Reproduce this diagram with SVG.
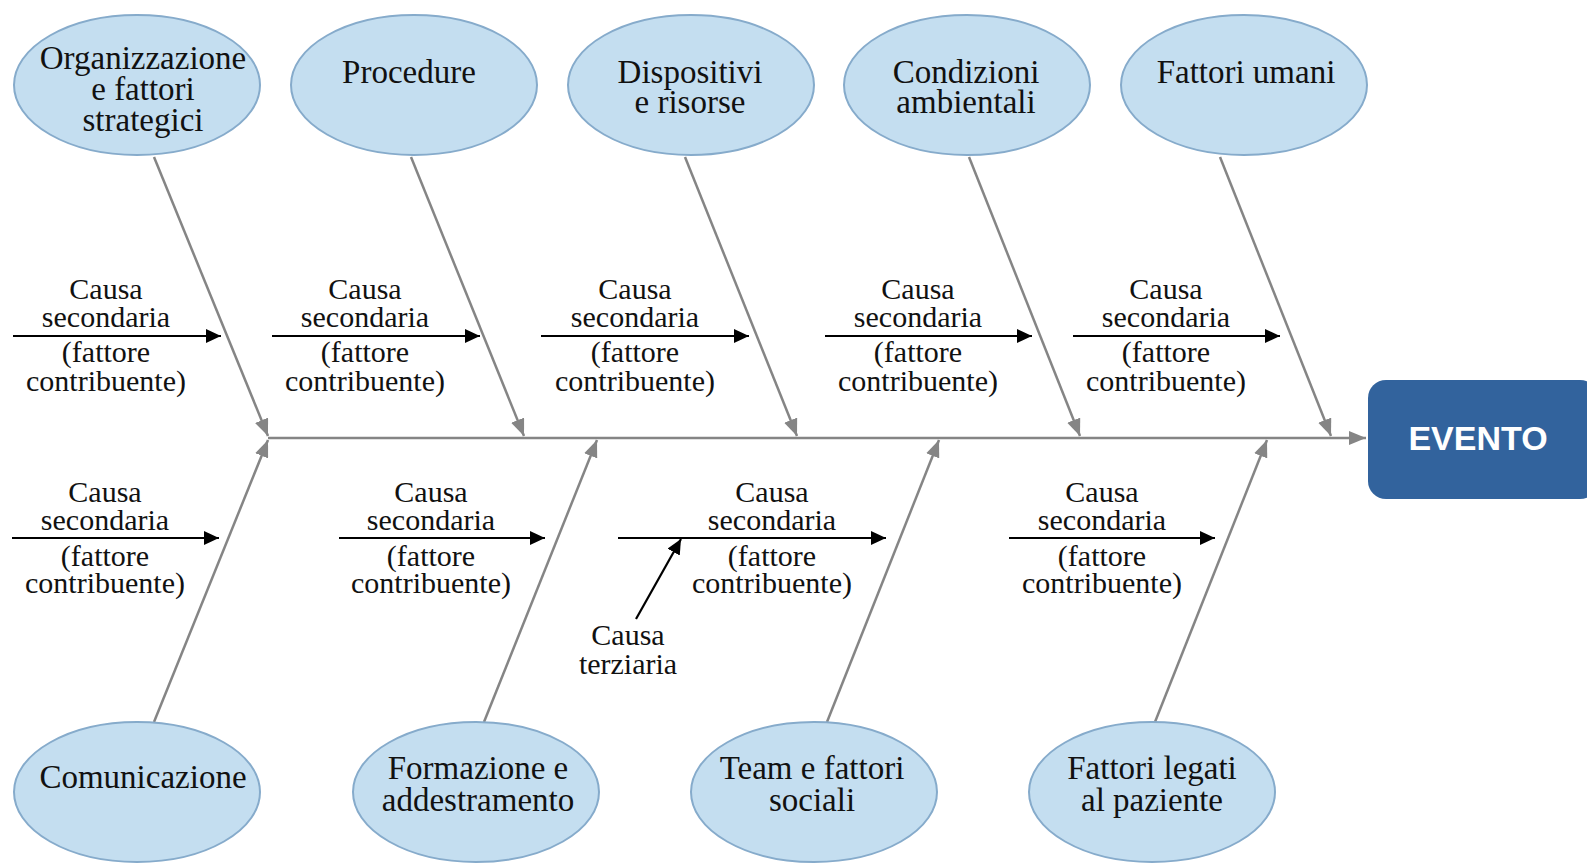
<svg xmlns="http://www.w3.org/2000/svg" width="1587" height="863" viewBox="0 0 1587 863">
<style>
.cause{fill:#c4def0;stroke:#86abcb;stroke-width:2}
.lbl{font-family:"Liberation Serif","Times New Roman",serif;font-size:33px;fill:#111;text-anchor:middle;dominant-baseline:central}
.sec{font-family:"Liberation Serif","Times New Roman",serif;font-size:30px;fill:#111;text-anchor:middle;dominant-baseline:central}
.bone{stroke:#858585;stroke-width:2.5;fill:none;marker-end:url(#ga)}
.sub{stroke:#000;stroke-width:2.2;fill:none;marker-end:url(#ba)}
</style>
<defs>
<marker id="ga" markerUnits="userSpaceOnUse" markerWidth="18" markerHeight="14" refX="17" refY="7" orient="auto"><path d="M0,0 L17,7 L0,14 z" fill="#858585"/></marker>
<marker id="ba" markerUnits="userSpaceOnUse" markerWidth="16" markerHeight="14" refX="15" refY="7" orient="auto"><path d="M0,0 L15,7 L0,14 z" fill="#000"/></marker>
</defs>
<rect width="1587" height="863" fill="#ffffff"/>
<g id="connectors">
<line class="bone" x1="268" y1="438" x2="1366" y2="438"/>
<line class="bone" x1="154" y1="157" x2="268" y2="436"/>
<line class="bone" x1="411" y1="157" x2="524" y2="436"/>
<line class="bone" x1="685" y1="157" x2="797" y2="436"/>
<line class="bone" x1="969" y1="157" x2="1080" y2="436"/>
<line class="bone" x1="1220" y1="157" x2="1331" y2="436"/>
<line class="bone" x1="154" y1="722" x2="268" y2="440"/>
<line class="bone" x1="484" y1="722" x2="597" y2="440"/>
<line class="bone" x1="827" y1="722" x2="939" y2="440"/>
<line class="bone" x1="1155" y1="722" x2="1267" y2="440"/>
<line class="sub" x1="13" y1="336" x2="221" y2="336"/>
<line class="sub" x1="272" y1="336" x2="480" y2="336"/>
<line class="sub" x1="541" y1="336" x2="749" y2="336"/>
<line class="sub" x1="825" y1="336" x2="1032" y2="336"/>
<line class="sub" x1="1073" y1="336" x2="1280" y2="336"/>
<line class="sub" x1="12" y1="538" x2="219" y2="538"/>
<line class="sub" x1="339" y1="538" x2="545" y2="538"/>
<line class="sub" x1="618" y1="538" x2="886" y2="538"/>
<line class="sub" x1="1009" y1="538" x2="1215" y2="538"/>
<line class="sub" x1="636" y1="619" x2="681" y2="539"/>
</g>
<g id="sec-labels">
<text class="sec" x="106" y="288">Causa</text><text class="sec" x="106" y="316">secondaria</text><text class="sec" x="106" y="351">(fattore</text><text class="sec" x="106" y="380">contribuente)</text>
<text class="sec" x="365" y="288">Causa</text><text class="sec" x="365" y="316">secondaria</text><text class="sec" x="365" y="351">(fattore</text><text class="sec" x="365" y="380">contribuente)</text>
<text class="sec" x="635" y="288">Causa</text><text class="sec" x="635" y="316">secondaria</text><text class="sec" x="635" y="351">(fattore</text><text class="sec" x="635" y="380">contribuente)</text>
<text class="sec" x="918" y="288">Causa</text><text class="sec" x="918" y="316">secondaria</text><text class="sec" x="918" y="351">(fattore</text><text class="sec" x="918" y="380">contribuente)</text>
<text class="sec" x="1166" y="288">Causa</text><text class="sec" x="1166" y="316">secondaria</text><text class="sec" x="1166" y="351">(fattore</text><text class="sec" x="1166" y="380">contribuente)</text>
<text class="sec" x="105" y="491">Causa</text><text class="sec" x="105" y="519">secondaria</text><text class="sec" x="105" y="555">(fattore</text><text class="sec" x="105" y="582">contribuente)</text>
<text class="sec" x="431" y="491">Causa</text><text class="sec" x="431" y="519">secondaria</text><text class="sec" x="431" y="555">(fattore</text><text class="sec" x="431" y="582">contribuente)</text>
<text class="sec" x="772" y="491">Causa</text><text class="sec" x="772" y="519">secondaria</text><text class="sec" x="772" y="555">(fattore</text><text class="sec" x="772" y="582">contribuente)</text>
<text class="sec" x="1102" y="491">Causa</text><text class="sec" x="1102" y="519">secondaria</text><text class="sec" x="1102" y="555">(fattore</text><text class="sec" x="1102" y="582">contribuente)</text>
<text class="sec" x="628" y="634">Causa</text><text class="sec" x="628" y="663">terziaria</text>
</g>
<g id="n-organizzazione"><ellipse class="cause" cx="137" cy="85" rx="123" ry="70"/><text class="lbl" x="143" y="58">Organizzazione</text><text class="lbl" x="143" y="89">e fattori</text><text class="lbl" x="143" y="120">strategici</text></g>
<g id="n-procedure"><ellipse class="cause" cx="414" cy="85" rx="123" ry="70"/><text class="lbl" x="409" y="72">Procedure</text></g>
<g id="n-dispositivi"><ellipse class="cause" cx="691" cy="85" rx="123" ry="70"/><text class="lbl" x="690" y="72">Dispositivi</text><text class="lbl" x="690" y="102">e risorse</text></g>
<g id="n-condizioni"><ellipse class="cause" cx="967" cy="85" rx="123" ry="70"/><text class="lbl" x="966" y="72">Condizioni</text><text class="lbl" x="966" y="102">ambientali</text></g>
<g id="n-umani"><ellipse class="cause" cx="1244" cy="85" rx="123" ry="70"/><text class="lbl" x="1246" y="72">Fattori umani</text></g>
<g id="n-comunicazione"><ellipse class="cause" cx="137" cy="792" rx="123" ry="70"/><text class="lbl" x="143" y="777">Comunicazione</text></g>
<g id="n-formazione"><ellipse class="cause" cx="476" cy="792" rx="123" ry="70"/><text class="lbl" x="478" y="768">Formazione e</text><text class="lbl" x="478" y="800">addestramento</text></g>
<g id="n-team"><ellipse class="cause" cx="814" cy="792" rx="123" ry="70"/><text class="lbl" x="812" y="768">Team e fattori</text><text class="lbl" x="812" y="800">sociali</text></g>
<g id="n-paziente"><ellipse class="cause" cx="1152" cy="792" rx="123" ry="70"/><text class="lbl" x="1152" y="768">Fattori legati</text><text class="lbl" x="1152" y="800">al paziente</text></g>
<g id="n-evento"><rect x="1368" y="380" width="230" height="119" rx="18" fill="#32639d"/><text x="1478" y="438" font-family="'Liberation Sans',Arial,sans-serif" font-size="34" font-weight="bold" fill="#fff" text-anchor="middle" dominant-baseline="central">EVENTO</text></g>
</svg>
